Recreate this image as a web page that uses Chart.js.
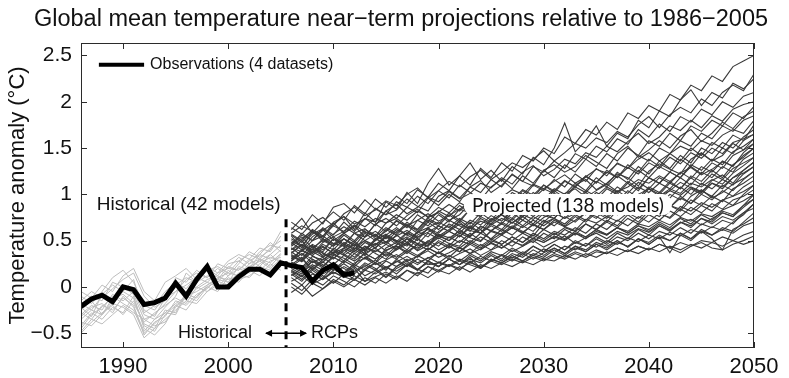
<!DOCTYPE html>
<html>
<head>
<meta charset="utf-8">
<title>Global mean temperature near-term projections</title>
<script src="https://cdn.jsdelivr.net/npm/chart.js@4.4.0/dist/chart.umd.min.js"></script>
<style>
    html, body { margin: 0; padding: 0; background: #fff; }
    #wrap { width: 789px; height: 378px; }
</style>
</head>
<body>
<div id="wrap"><canvas id="temp-chart" width="789" height="378"></canvas></div>
<script>
// years on the x axis, 1986..2050
const years = [1986, 1987, 1988, 1989, 1990, 1991, 1992, 1993, 1994, 1995,
    1996, 1997, 1998, 1999, 2000, 2001, 2002, 2003, 2004, 2005,
    2006, 2007, 2008, 2009, 2010, 2011, 2012, 2013, 2014, 2015,
    2016, 2017, 2018, 2019, 2020, 2021, 2022, 2023, 2024, 2025,
    2026, 2027, 2028, 2029, 2030, 2031, 2032, 2033, 2034, 2035,
    2036, 2037, 2038, 2039, 2040, 2041, 2042, 2043, 2044, 2045,
    2046, 2047, 2048, 2049, 2050];

const xTicks = [1990, 2000, 2010, 2020, 2030, 2040, 2050];
const yTicks = [-0.5, 0, 0.5, 1, 1.5, 2, 2.5];

// observations, 1986..2012
const obsValues = [-0.21, -0.13, -0.09, -0.16, 0.00, -0.03, -0.19, -0.17, -0.12, 0.04,
    -0.10, 0.08, 0.22, 0.00, 0.00, 0.11, 0.19, 0.19, 0.13, 0.26,
    0.23, 0.21, 0.06, 0.18, 0.24, 0.13, 0.15];

// historical model runs, 1986..2005
const histModels = [
    [-0.45, -0.30, -0.22, -0.10, -0.18, -0.25, -0.50, -0.40, -0.28, -0.18, -0.10, -0.05, 0.02, 0.08, 0.05, 0.15, 0.22, 0.18, 0.28, 0.32],
    [-0.20, -0.10, -0.15, 0.05, 0.00, -0.08, -0.35, -0.30, -0.18, -0.05, 0.02, 0.10, 0.05, 0.15, 0.20, 0.18, 0.28, 0.35, 0.30, 0.40],
    [-0.35, -0.25, -0.30, -0.15, -0.05, -0.12, -0.42, -0.48, -0.30, -0.20, -0.12, -0.02, 0.05, 0.00, 0.12, 0.20, 0.15, 0.25, 0.32, 0.28],
    [-0.10, -0.18, -0.05, 0.10, 0.18, 0.05, -0.20, -0.25, -0.10, 0.02, 0.10, 0.05, 0.18, 0.22, 0.15, 0.28, 0.35, 0.30, 0.42, 0.50],
    [-0.28, -0.35, -0.20, -0.25, -0.12, -0.20, -0.52, -0.38, -0.32, -0.15, -0.20, -0.08, -0.02, 0.10, 0.08, 0.12, 0.25, 0.30, 0.22, 0.35],
    [-0.50, -0.38, -0.28, -0.20, -0.30, -0.15, -0.40, -0.45, -0.25, -0.28, -0.05, 0.00, -0.05, 0.05, 0.18, 0.10, 0.20, 0.28, 0.35, 0.25],
    [-0.15, -0.05, -0.12, -0.02, 0.08, 0.15, -0.10, -0.22, -0.15, 0.10, 0.05, 0.18, 0.10, 0.25, 0.20, 0.32, 0.25, 0.38, 0.45, 0.42],
    [-0.30, -0.20, -0.25, -0.08, -0.15, -0.05, -0.30, -0.35, -0.22, -0.10, 0.15, 0.05, 0.12, 0.08, 0.22, 0.18, 0.30, 0.22, 0.35, 0.45],
    [-0.38, -0.42, -0.30, -0.18, -0.22, -0.30, -0.55, -0.45, -0.35, -0.25, -0.15, -0.18, -0.05, 0.02, -0.02, 0.08, 0.12, 0.20, 0.15, 0.22],
    [-0.05, -0.12, 0.02, -0.05, 0.12, 0.20, -0.05, -0.15, 0.05, 0.12, 0.20, 0.08, 0.22, 0.15, 0.28, 0.35, 0.30, 0.42, 0.38, 0.55],
    [-0.25, -0.15, -0.30, -0.12, -0.08, -0.18, -0.38, -0.28, -0.20, -0.12, -0.18, 0.00, 0.08, 0.12, 0.05, 0.22, 0.18, 0.30, 0.26, 0.36],
    [-0.42, -0.28, -0.35, -0.22, -0.28, -0.10, -0.45, -0.52, -0.40, -0.20, -0.25, -0.10, 0.00, -0.05, 0.10, 0.05, 0.18, 0.12, 0.25, 0.18],
    [-0.18, -0.25, -0.10, -0.15, 0.02, -0.02, -0.25, -0.32, -0.12, -0.05, 0.08, 0.15, 0.10, 0.20, 0.12, 0.25, 0.38, 0.32, 0.40, 0.60],
    [-0.32, -0.22, -0.18, -0.28, -0.10, -0.22, -0.48, -0.35, -0.28, -0.30, -0.08, -0.12, 0.02, 0.10, 0.15, 0.12, 0.22, 0.28, 0.20, 0.30],
    [-0.22, -0.32, -0.08, 0.02, -0.05, 0.08, -0.28, -0.20, -0.05, 0.05, -0.02, 0.12, 0.20, 0.12, 0.25, 0.28, 0.20, 0.35, 0.48, 0.38],
    [-0.48, -0.35, -0.40, -0.30, -0.20, -0.28, -0.35, -0.42, -0.38, -0.22, -0.10, -0.15, 0.00, 0.06, 0.02, 0.14, 0.10, 0.22, 0.18, 0.28]
];

// projected model runs (RCPs), 2006..2050
const projModels = [
    [0.62, 0.74, 0.58, 0.70, 0.81, 0.72, 0.88, 0.79, 0.95, 0.86, 0.98, 0.90, 1.05, 0.97, 1.12, 1.04, 1.20, 1.10, 1.28, 1.18, 1.34, 1.25, 1.42, 1.36, 1.50, 1.44, 1.62, 1.55, 1.70, 1.64, 1.78, 1.70, 1.88, 1.82, 1.96, 1.90, 2.08, 2.02, 2.18, 2.12, 2.28, 2.22, 2.38, 2.44, 2.50],
    [0.55, 0.42, 0.60, 0.52, 0.68, 0.76, 0.62, 0.80, 0.70, 0.92, 0.84, 1.02, 0.90, 1.12, 1.28, 1.10, 1.20, 1.34, 1.16, 1.26, 1.14, 1.30, 1.22, 1.40, 1.32, 1.50, 1.77, 1.46, 1.58, 1.74, 1.52, 1.66, 1.60, 1.80, 1.72, 1.90, 1.84, 2.02, 2.13, 1.96, 2.10, 2.04, 2.20, 2.14, 2.25],
    [0.45, 0.58, 0.50, 0.64, 0.56, 0.70, 0.60, 0.74, 0.66, 0.82, 0.74, 0.86, 0.80, 0.96, 0.88, 1.00, 0.92, 1.08, 1.02, 1.16, 1.08, 1.22, 1.14, 1.30, 1.24, 1.36, 1.28, 1.44, 1.38, 1.52, 1.46, 1.60, 1.54, 1.70, 1.62, 1.76, 1.68, 1.84, 1.78, 1.92, 1.86, 2.00, 1.94, 2.06, 2.10],
    [0.70, 0.62, 0.78, 0.68, 0.86, 0.90, 0.80, 0.94, 0.84, 0.78, 0.92, 0.86, 0.98, 0.90, 1.04, 0.96, 1.10, 1.02, 0.94, 1.08, 1.16, 1.06, 1.20, 1.12, 1.26, 1.18, 1.32, 1.24, 1.38, 1.30, 1.44, 1.36, 1.50, 1.42, 1.58, 1.52, 1.66, 1.58, 1.74, 1.68, 1.80, 1.74, 1.88, 1.82, 1.95],
    [0.35, 0.28, 0.44, 0.38, 0.52, 0.46, 0.58, 0.50, 0.42, 0.56, 0.64, 0.56, 0.72, 0.66, 0.78, 0.70, 0.84, 0.92, 0.80, 0.94, 0.88, 1.02, 0.96, 1.10, 1.04, 1.16, 1.08, 1.22, 1.14, 1.28, 1.20, 1.34, 1.28, 1.42, 1.36, 1.50, 1.44, 1.58, 1.52, 1.66, 1.60, 1.74, 1.68, 1.80, 1.85],
    [0.48, 0.40, 0.54, 0.62, 0.50, 0.58, 0.66, 0.54, 0.68, 0.60, 0.72, 0.64, 0.78, 0.70, 0.82, 0.76, 0.88, 0.80, 0.92, 0.86, 0.98, 0.90, 1.04, 0.96, 1.10, 1.02, 1.14, 1.08, 1.20, 1.12, 1.26, 1.18, 1.32, 1.24, 1.38, 1.30, 1.44, 1.36, 1.50, 1.42, 1.56, 1.50, 1.64, 1.58, 1.75],
    [0.40, 0.50, 0.36, 0.46, 0.40, 0.52, 0.44, 0.58, 0.50, 0.62, 0.56, 0.68, 0.60, 0.72, 0.66, 0.78, 0.70, 0.84, 0.76, 0.88, 0.82, 0.94, 0.86, 0.98, 0.92, 1.04, 0.96, 1.08, 1.02, 1.14, 1.08, 1.20, 1.12, 1.26, 1.18, 1.30, 1.24, 1.38, 1.30, 1.44, 1.36, 1.50, 1.44, 1.58, 1.65],
    [0.30, 0.40, 0.34, 0.26, 0.42, 0.36, 0.48, 0.40, 0.52, 0.46, 0.56, 0.48, 0.60, 0.54, 0.66, 0.60, 0.72, 0.64, 0.76, 0.70, 0.80, 0.74, 0.86, 0.78, 0.90, 0.84, 0.96, 0.90, 1.02, 0.94, 1.06, 1.00, 1.12, 1.04, 1.18, 1.12, 1.24, 1.18, 1.32, 1.26, 1.38, 1.32, 1.46, 1.52, 1.60],
    [0.50, 0.44, 0.36, 0.48, 0.54, 0.46, 0.40, 0.54, 0.60, 0.52, 0.62, 0.56, 0.50, 0.64, 0.70, 0.64, 0.74, 0.68, 0.80, 0.72, 0.84, 0.78, 0.88, 0.82, 0.94, 0.88, 0.98, 0.92, 1.04, 0.98, 1.08, 1.02, 1.14, 1.06, 1.18, 1.12, 1.24, 1.18, 1.30, 1.22, 1.34, 1.28, 1.42, 1.48, 1.55],
    [0.24, 0.32, 0.18, 0.30, 0.36, 0.28, 0.40, 0.34, 0.26, 0.42, 0.48, 0.40, 0.52, 0.46, 0.56, 0.50, 0.62, 0.54, 0.66, 0.60, 0.70, 0.64, 0.76, 0.68, 0.80, 0.74, 0.86, 0.78, 0.90, 0.84, 0.96, 0.88, 1.00, 0.94, 1.06, 1.00, 1.12, 1.06, 1.20, 1.14, 1.26, 1.18, 1.32, 1.40, 1.50],
    [0.38, 0.30, 0.44, 0.36, 0.30, 0.42, 0.50, 0.38, 0.46, 0.54, 0.46, 0.58, 0.52, 0.44, 0.60, 0.66, 0.58, 0.70, 0.62, 0.74, 0.68, 0.80, 0.72, 0.84, 0.78, 0.88, 0.82, 0.94, 0.86, 0.98, 0.92, 1.04, 0.96, 1.08, 1.02, 1.12, 1.06, 1.18, 1.10, 1.24, 1.18, 1.30, 1.24, 1.38, 1.45],
    [0.56, 0.48, 0.60, 0.52, 0.46, 0.58, 0.50, 0.62, 0.56, 0.48, 0.60, 0.66, 0.58, 0.70, 0.62, 0.72, 0.66, 0.60, 0.74, 0.68, 0.78, 0.72, 0.84, 0.76, 0.86, 0.80, 0.92, 0.84, 0.96, 0.88, 0.98, 0.92, 1.04, 0.96, 1.08, 1.02, 1.14, 1.06, 1.18, 1.10, 1.22, 1.16, 1.28, 1.34, 1.40],
    [0.20, 0.14, 0.28, 0.22, 0.32, 0.26, 0.36, 0.30, 0.40, 0.34, 0.44, 0.36, 0.46, 0.40, 0.50, 0.44, 0.56, 0.48, 0.58, 0.52, 0.62, 0.56, 0.66, 0.60, 0.72, 0.66, 0.76, 0.70, 0.80, 0.74, 0.86, 0.78, 0.90, 0.84, 0.94, 0.88, 1.00, 0.94, 1.06, 1.00, 1.12, 1.06, 1.18, 1.26, 1.35],
    [0.42, 0.34, 0.46, 0.40, 0.52, 0.44, 0.38, 0.48, 0.42, 0.54, 0.50, 0.44, 0.56, 0.62, 0.54, 0.60, 0.54, 0.66, 0.58, 0.68, 0.62, 0.74, 0.66, 0.76, 0.70, 0.80, 0.74, 0.84, 0.78, 0.90, 0.84, 0.94, 0.88, 0.98, 0.92, 1.02, 0.96, 1.08, 1.00, 1.12, 1.06, 1.16, 1.10, 1.22, 1.30],
    [0.28, 0.36, 0.30, 0.22, 0.34, 0.40, 0.32, 0.44, 0.36, 0.30, 0.42, 0.48, 0.40, 0.50, 0.44, 0.54, 0.48, 0.58, 0.50, 0.60, 0.56, 0.64, 0.58, 0.68, 0.62, 0.72, 0.66, 0.76, 0.70, 0.80, 0.74, 0.84, 0.78, 0.88, 0.82, 0.92, 0.86, 0.98, 0.90, 1.04, 0.98, 1.10, 1.04, 1.16, 1.25],
    [0.14, 0.06, 0.18, 0.10, 0.22, 0.16, 0.08, 0.20, 0.26, 0.18, 0.30, 0.22, 0.34, 0.28, 0.38, 0.32, 0.42, 0.36, 0.46, 0.40, 0.50, 0.44, 0.54, 0.48, 0.58, 0.52, 0.62, 0.56, 0.68, 0.62, 0.72, 0.66, 0.78, 0.70, 0.82, 0.76, 0.88, 0.82, 0.94, 0.88, 0.98, 0.92, 1.06, 1.12, 1.20],
    [0.46, 0.54, 0.42, 0.50, 0.44, 0.52, 0.46, 0.40, 0.50, 0.56, 0.48, 0.54, 0.46, 0.58, 0.52, 0.60, 0.54, 0.64, 0.58, 0.66, 0.60, 0.70, 0.64, 0.72, 0.66, 0.74, 0.68, 0.78, 0.72, 0.82, 0.76, 0.86, 0.80, 0.88, 0.84, 0.92, 0.86, 0.96, 0.90, 1.00, 0.94, 1.04, 0.98, 1.08, 1.15],
    [0.26, 0.20, 0.30, 0.24, 0.18, 0.28, 0.22, 0.32, 0.26, 0.36, 0.30, 0.38, 0.32, 0.42, 0.36, 0.44, 0.38, 0.48, 0.42, 0.50, 0.46, 0.54, 0.48, 0.58, 0.52, 0.60, 0.56, 0.64, 0.58, 0.68, 0.62, 0.72, 0.66, 0.76, 0.70, 0.80, 0.74, 0.84, 0.78, 0.88, 0.82, 0.94, 0.88, 1.00, 1.10],
    [0.34, 0.28, 0.38, 0.32, 0.40, 0.34, 0.42, 0.36, 0.30, 0.40, 0.44, 0.38, 0.46, 0.40, 0.48, 0.42, 0.50, 0.46, 0.54, 0.48, 0.56, 0.50, 0.58, 0.52, 0.62, 0.56, 0.64, 0.60, 0.68, 0.62, 0.70, 0.64, 0.74, 0.68, 0.78, 0.72, 0.82, 0.76, 0.86, 0.80, 0.90, 0.84, 0.94, 0.98, 1.05],
    [0.10, 0.02, 0.14, 0.08, 0.16, 0.10, 0.20, 0.06, 0.16, 0.22, 0.14, 0.24, 0.18, 0.28, 0.22, 0.30, 0.24, 0.34, 0.28, 0.36, 0.30, 0.40, 0.34, 0.44, 0.38, 0.46, 0.40, 0.50, 0.44, 0.54, 0.48, 0.58, 0.52, 0.62, 0.56, 0.66, 0.60, 0.70, 0.64, 0.74, 0.70, 0.80, 0.76, 0.88, 1.00],
    [0.30, 0.36, 0.26, 0.32, 0.24, 0.34, 0.28, 0.36, 0.30, 0.38, 0.32, 0.40, 0.34, 0.42, 0.36, 0.44, 0.38, 0.46, 0.40, 0.48, 0.42, 0.50, 0.44, 0.52, 0.48, 0.54, 0.50, 0.58, 0.52, 0.60, 0.56, 0.64, 0.58, 0.66, 0.62, 0.70, 0.64, 0.74, 0.68, 0.78, 0.72, 0.82, 0.78, 0.88, 0.95],
    [0.22, 0.16, 0.24, 0.18, 0.26, 0.20, 0.14, 0.24, 0.18, 0.28, 0.22, 0.30, 0.24, 0.32, 0.26, 0.34, 0.28, 0.36, 0.30, 0.38, 0.34, 0.42, 0.36, 0.44, 0.38, 0.46, 0.40, 0.48, 0.44, 0.52, 0.46, 0.54, 0.50, 0.58, 0.52, 0.60, 0.56, 0.64, 0.58, 0.68, 0.64, 0.72, 0.68, 0.80, 0.90],
    [0.40, 0.46, 0.38, 0.44, 0.36, 0.42, 0.36, 0.44, 0.38, 0.46, 0.40, 0.46, 0.42, 0.48, 0.40, 0.46, 0.42, 0.50, 0.44, 0.52, 0.46, 0.54, 0.48, 0.56, 0.50, 0.58, 0.52, 0.60, 0.54, 0.62, 0.56, 0.64, 0.58, 0.66, 0.60, 0.68, 0.62, 0.70, 0.66, 0.74, 0.68, 0.76, 0.72, 0.80, 0.85],
    [0.04, -0.04, 0.08, 0.02, 0.12, 0.06, 0.00, 0.10, 0.04, 0.14, 0.08, 0.18, 0.12, 0.22, 0.16, 0.24, 0.18, 0.28, 0.20, 0.30, 0.26, 0.34, 0.28, 0.36, 0.32, 0.40, 0.34, 0.42, 0.38, 0.46, 0.40, 0.48, 0.44, 0.52, 0.46, 0.54, 0.50, 0.58, 0.52, 0.62, 0.56, 0.64, 0.60, 0.70, 0.80],
    [0.26, 0.18, 0.28, 0.20, 0.14, 0.22, 0.16, 0.26, 0.20, 0.11, 0.22, 0.28, 0.19, 0.26, 0.22, 0.30, 0.24, 0.32, 0.20, 0.28, 0.34, 0.28, 0.36, 0.30, 0.37, 0.42, 0.36, 0.44, 0.38, 0.46, 0.42, 0.50, 0.43, 0.52, 0.46, 0.54, 0.37, 0.56, 0.50, 0.60, 0.52, 0.40, 0.62, 0.68, 0.75],
    [0.16, 0.08, 0.20, 0.12, 0.04, 0.14, 0.22, 0.12, 0.18, 0.10, 0.20, 0.26, 0.18, 0.28, 0.22, 0.30, 0.24, 0.30, 0.26, 0.34, 0.28, 0.36, 0.32, 0.40, 0.34, 0.42, 0.36, 0.44, 0.40, 0.48, 0.44, 0.50, 0.43, 0.52, 0.48, 0.56, 0.50, 0.58, 0.52, 0.60, 0.56, 0.62, 0.58, 0.66, 0.70],
    [0.00, -0.08, 0.04, -0.02, 0.08, 0.02, 0.12, 0.06, 0.11, 0.16, 0.10, 0.18, 0.14, 0.22, 0.18, 0.24, 0.20, 0.26, 0.22, 0.28, 0.24, 0.30, 0.26, 0.32, 0.28, 0.34, 0.30, 0.36, 0.32, 0.38, 0.36, 0.42, 0.38, 0.44, 0.40, 0.46, 0.42, 0.48, 0.44, 0.50, 0.48, 0.54, 0.50, 0.56, 0.60],
    [0.18, 0.12, 0.22, 0.14, 0.20, 0.16, 0.24, 0.18, 0.26, 0.20, 0.28, 0.22, 0.30, 0.24, 0.26, 0.22, 0.28, 0.24, 0.20, 0.30, 0.26, 0.32, 0.28, 0.34, 0.30, 0.36, 0.32, 0.38, 0.34, 0.40, 0.36, 0.42, 0.38, 0.44, 0.40, 0.46, 0.42, 0.37, 0.44, 0.48, 0.42, 0.40, 0.46, 0.50, 0.55],
    [-0.06, 0.02, -0.10, -0.02, 0.06, 0.00, 0.08, 0.02, 0.10, 0.04, 0.12, 0.06, 0.16, 0.10, 0.18, 0.14, 0.22, 0.16, 0.24, 0.20, 0.26, 0.22, 0.28, 0.24, 0.30, 0.28, 0.34, 0.30, 0.36, 0.32, 0.38, 0.34, 0.40, 0.36, 0.42, 0.38, 0.44, 0.40, 0.46, 0.42, 0.48, 0.44, 0.50, 0.46, 0.50],
    [0.36, 0.46, 0.40, 0.52, 0.44, 0.56, 0.48, 0.60, 0.54, 0.64, 0.58, 0.70, 0.62, 0.74, 0.68, 0.80, 0.72, 0.84, 0.78, 0.90, 0.84, 0.96, 0.90, 1.02, 0.94, 1.06, 1.00, 1.12, 1.04, 1.18, 1.10, 1.24, 1.16, 1.30, 1.22, 1.36, 1.28, 1.42, 1.34, 1.50, 1.44, 1.56, 1.50, 1.62, 1.70],
    [0.42, 0.38, 0.50, 0.55, 0.47, 0.44, 0.58, 0.63, 0.52, 0.60, 0.71, 0.66, 0.62, 0.75, 0.80, 0.72, 0.78, 0.90, 0.83, 0.79, 0.92, 0.99, 0.88, 0.95, 1.06, 1.01, 0.97, 1.10, 1.16, 1.05, 1.12, 1.22, 1.18, 1.09, 1.25, 1.33, 1.27, 1.22, 1.38, 1.45, 1.36, 1.42, 1.55, 1.48, 1.60],
    [0.28, 0.40, 0.45, 0.33, 0.36, 0.48, 0.42, 0.39, 0.51, 0.57, 0.50, 0.46, 0.59, 0.64, 0.55, 0.62, 0.70, 0.61, 0.58, 0.72, 0.78, 0.69, 0.76, 0.84, 0.77, 0.74, 0.86, 0.92, 0.83, 0.89, 0.97, 0.90, 0.87, 1.00, 1.06, 0.98, 1.04, 1.13, 1.07, 1.02, 1.15, 1.21, 1.12, 1.26, 1.35],
    [0.58, 0.66, 0.60, 0.54, 0.70, 0.76, 0.68, 0.73, 0.85, 0.78, 0.83, 0.95, 0.87, 0.82, 0.98, 1.04, 0.96, 1.08, 1.15, 1.02, 1.10, 1.21, 1.14, 1.09, 1.26, 1.32, 1.24, 1.30, 1.42, 1.35, 1.28, 1.44, 1.52, 1.40, 1.48, 1.58, 1.50, 1.63, 1.70, 1.57, 1.66, 1.78, 1.71, 1.84, 1.90],
    [0.22, 0.30, 0.19, 0.27, 0.35, 0.31, 0.24, 0.37, 0.42, 0.33, 0.40, 0.48, 0.39, 0.45, 0.53, 0.47, 0.44, 0.56, 0.62, 0.51, 0.58, 0.66, 0.60, 0.55, 0.69, 0.74, 0.65, 0.72, 0.80, 0.76, 0.70, 0.83, 0.89, 0.79, 0.86, 0.94, 0.88, 0.84, 0.98, 1.05, 0.96, 1.02, 1.11, 1.17, 1.25],
    [0.47, 0.56, 0.50, 0.61, 0.69, 0.58, 0.65, 0.74, 0.70, 0.82, 0.89, 0.79, 0.86, 0.97, 0.92, 1.03, 0.95, 1.01, 1.12, 1.07, 1.18, 1.11, 1.24, 1.31, 1.20, 1.27, 1.38, 1.33, 1.45, 1.40, 1.52, 1.46, 1.57, 1.66, 1.55, 1.62, 1.74, 1.69, 1.80, 1.72, 1.85, 1.79, 1.92, 1.97, 2.00],
    [0.33, 0.27, 0.41, 0.37, 0.31, 0.39, 0.46, 0.35, 0.43, 0.49, 0.41, 0.52, 0.47, 0.44, 0.55, 0.50, 0.58, 0.53, 0.49, 0.61, 0.57, 0.64, 0.59, 0.67, 0.62, 0.70, 0.65, 0.61, 0.73, 0.69, 0.76, 0.71, 0.80, 0.74, 0.83, 0.79, 0.75, 0.87, 0.82, 0.91, 0.86, 0.94, 0.98, 1.03, 1.10],
    [0.52, 0.45, 0.57, 0.63, 0.54, 0.60, 0.67, 0.59, 0.55, 0.69, 0.74, 0.66, 0.72, 0.79, 0.71, 0.77, 0.84, 0.80, 0.76, 0.88, 0.93, 0.85, 0.91, 0.98, 0.94, 0.89, 1.01, 1.06, 0.97, 1.04, 1.11, 1.03, 1.08, 1.16, 1.12, 1.20, 1.14, 1.23, 1.29, 1.21, 1.27, 1.35, 1.31, 1.42, 1.50],
    [0.12, 0.20, 0.15, 0.08, 0.18, 0.25, 0.17, 0.22, 0.29, 0.21, 0.27, 0.33, 0.26, 0.31, 0.37, 0.30, 0.36, 0.41, 0.34, 0.40, 0.45, 0.38, 0.44, 0.50, 0.43, 0.49, 0.55, 0.47, 0.53, 0.58, 0.52, 0.60, 0.56, 0.63, 0.59, 0.66, 0.61, 0.69, 0.73, 0.67, 0.74, 0.80, 0.76, 0.86, 0.95],
    [0.64, 0.57, 0.69, 0.75, 0.66, 0.79, 0.86, 0.77, 0.83, 0.93, 0.88, 1.00, 1.07, 0.96, 1.04, 1.14, 1.08, 1.19, 1.26, 1.16, 1.24, 1.34, 1.29, 1.38, 1.47, 1.36, 1.45, 1.55, 1.50, 1.61, 1.56, 1.68, 1.62, 1.75, 1.84, 1.72, 1.86, 1.94, 1.88, 2.03, 1.96, 2.10, 2.18, 2.12, 2.30],
    [0.27, 0.21, 0.33, 0.29, 0.38, 0.35, 0.30, 0.42, 0.47, 0.39, 0.45, 0.52, 0.44, 0.49, 0.57, 0.53, 0.60, 0.55, 0.65, 0.61, 0.68, 0.63, 0.72, 0.66, 0.75, 0.81, 0.74, 0.79, 0.87, 0.83, 0.90, 0.84, 0.94, 1.00, 0.92, 0.98, 1.06, 1.01, 1.12, 1.08, 1.16, 1.11, 1.23, 1.31, 1.40],
    [0.44, 0.52, 0.61, 0.49, 0.57, 0.65, 0.58, 0.54, 0.68, 0.74, 0.66, 0.77, 0.84, 0.75, 0.81, 0.89, 0.82, 0.93, 0.99, 0.90, 0.97, 1.05, 1.00, 1.11, 1.06, 1.14, 1.21, 1.12, 1.19, 1.27, 1.23, 1.33, 1.28, 1.38, 1.45, 1.36, 1.44, 1.52, 1.47, 1.58, 1.53, 1.64, 1.70, 1.66, 1.80],
    [0.17, 0.11, 0.22, 0.27, 0.19, 0.14, 0.26, 0.31, 0.24, 0.29, 0.35, 0.28, 0.33, 0.39, 0.32, 0.37, 0.43, 0.36, 0.41, 0.47, 0.42, 0.49, 0.45, 0.53, 0.48, 0.55, 0.51, 0.58, 0.54, 0.62, 0.57, 0.64, 0.60, 0.68, 0.65, 0.72, 0.67, 0.75, 0.71, 0.79, 0.76, 0.83, 0.88, 0.93, 1.00],
    [0.37, 0.45, 0.40, 0.34, 0.46, 0.52, 0.44, 0.50, 0.57, 0.48, 0.55, 0.61, 0.54, 0.59, 0.66, 0.60, 0.68, 0.63, 0.71, 0.67, 0.74, 0.69, 0.78, 0.73, 0.81, 0.77, 0.85, 0.80, 0.88, 0.84, 0.92, 0.87, 0.96, 0.91, 1.00, 0.95, 1.04, 0.99, 1.08, 1.03, 1.12, 1.08, 1.18, 1.23, 1.30],
    [0.57, 0.50, 0.62, 0.55, 0.66, 0.60, 0.71, 0.65, 0.74, 0.69, 0.78, 0.72, 0.82, 0.76, 0.86, 0.80, 0.91, 0.85, 0.95, 0.89, 1.00, 0.94, 1.05, 0.99, 1.10, 1.04, 1.15, 1.08, 1.19, 1.13, 1.24, 1.18, 1.29, 1.22, 1.34, 1.28, 1.40, 1.33, 1.45, 1.39, 1.50, 1.44, 1.56, 1.60, 1.65],
    [0.31, 0.39, 0.34, 0.43, 0.37, 0.46, 0.41, 0.50, 0.45, 0.55, 0.49, 0.59, 0.53, 0.63, 0.58, 0.68, 0.62, 0.72, 0.67, 0.77, 0.71, 0.82, 0.76, 0.87, 0.81, 0.92, 0.86, 0.97, 0.91, 1.02, 0.96, 1.08, 1.01, 1.13, 1.06, 1.18, 1.12, 1.24, 1.17, 1.30, 1.24, 1.36, 1.30, 1.45, 1.55],
    [0.06, 0.12, 0.03, 0.09, 0.16, 0.11, 0.07, 0.18, 0.14, 0.21, 0.17, 0.24, 0.19, 0.15, 0.27, 0.23, 0.30, 0.26, 0.33, 0.28, 0.35, 0.31, 0.38, 0.34, 0.41, 0.37, 0.44, 0.40, 0.47, 0.43, 0.50, 0.46, 0.53, 0.49, 0.56, 0.52, 0.59, 0.55, 0.62, 0.58, 0.65, 0.61, 0.70, 0.78, 0.90]
];

// annotation anchors, in data units
const splitYear = 2005.5;
const splitTop = 0.73;
const legendAnchor = { x1: 1987.7, x2: 1992.0, y: 2.4 };
const histLabelAnchor = { x: 1987.5, y: 0.89 };
const projLabelAnchor = { x: 2032.3, y: 0.89 };
const bottomLabelAnchor = { y: -0.5 };

const uiFont = '"Liberation Sans", Arial, Helvetica, sans-serif';

document.addEventListener('DOMContentLoaded', function() {
    initializeChart();
});

function toPoints(xs, ys) {
    return ys.map((v, i) => ({ x: xs[i], y: v }));
}

function formatTick(v) {
    if (v < 0) return '\u2212' + Math.abs(v);
    return String(v);
}

function drawArrowHead(ctx, x, y, dir) {
    ctx.beginPath();
    ctx.moveTo(x, y);
    ctx.lineTo(x - dir * 7, y - 3.5);
    ctx.lineTo(x - dir * 7, y + 3.5);
    ctx.closePath();
    ctx.fill();
}

const overlayPlugin = {
    id: 'overlay',
    afterDraw(chart) {
        const ctx = chart.ctx;
        const area = chart.chartArea;
        const xs = chart.scales.x;
        const ys = chart.scales.y;

        ctx.save();

        // frame and inward ticks
        ctx.strokeStyle = '#2b2b2b';
        ctx.lineWidth = 1;
        ctx.strokeRect(area.left + 0.5, area.top + 0.5, area.right - area.left - 1, area.bottom - area.top - 1);
        ctx.beginPath();
        xTicks.forEach(v => {
            const px = Math.round(xs.getPixelForValue(v)) + 0.5;
            ctx.moveTo(px, area.bottom);
            ctx.lineTo(px, area.bottom - 6);
            ctx.moveTo(px, area.top);
            ctx.lineTo(px, area.top + 6);
        });
        yTicks.forEach(v => {
            const py = Math.round(ys.getPixelForValue(v)) + 0.5;
            ctx.moveTo(area.left, py);
            ctx.lineTo(area.left + 6, py);
            ctx.moveTo(area.right, py);
            ctx.lineTo(area.right - 6, py);
        });
        ctx.stroke();

        // title
        ctx.fillStyle = '#111';
        ctx.font = '23.5px ' + uiFont;
        ctx.textAlign = 'center';
        ctx.textBaseline = 'alphabetic';
        ctx.fillText('Global mean temperature near\u2212term projections relative to 1986\u22122005', 401, 26);

        // legend
        const ly = ys.getPixelForValue(legendAnchor.y);
        ctx.strokeStyle = '#000';
        ctx.lineWidth = 4;
        ctx.beginPath();
        ctx.moveTo(xs.getPixelForValue(legendAnchor.x1), ly);
        ctx.lineTo(xs.getPixelForValue(legendAnchor.x2), ly);
        ctx.stroke();
        ctx.font = '16px ' + uiFont;
        ctx.textAlign = 'left';
        ctx.textBaseline = 'middle';
        ctx.fillText('Observations (4 datasets)', xs.getPixelForValue(legendAnchor.x2) + 6, ly);

        // Historical (42 models)
        ctx.font = '19px ' + uiFont;
        ctx.fillText('Historical (42 models)', xs.getPixelForValue(histLabelAnchor.x), ys.getPixelForValue(histLabelAnchor.y));

        // Projected (138 models) in a white rounded box
        const px = xs.getPixelForValue(projLabelAnchor.x);
        const py = ys.getPixelForValue(projLabelAnchor.y);
        ctx.font = '19px Lato, "Open Sans", sans-serif';
        const label = 'Projected (138 models)';
        const w = ctx.measureText(label).width + 16;
        ctx.fillStyle = '#fff';
        ctx.beginPath();
        if (ctx.roundRect) {
            ctx.roundRect(px - w / 2, py - 10.5, w, 21, 9);
        } else {
            ctx.rect(px - w / 2, py - 10.5, w, 21);
        }
        ctx.fill();
        ctx.fillStyle = '#111';
        ctx.textAlign = 'center';
        ctx.fillText(label, px, py + 1);

        // Historical <-> RCPs
        const sx = xs.getPixelForValue(splitYear);
        const by = ys.getPixelForValue(bottomLabelAnchor.y);
        ctx.font = '18px ' + uiFont;
        ctx.textAlign = 'right';
        ctx.fillText('Historical', sx - 34, by);
        ctx.textAlign = 'left';
        ctx.fillText('RCPs', sx + 25, by);
        ctx.strokeStyle = '#000';
        ctx.fillStyle = '#000';
        ctx.lineWidth = 1.5;
        ctx.beginPath();
        ctx.moveTo(sx - 20, by);
        ctx.lineTo(sx + 20, by);
        ctx.stroke();
        drawArrowHead(ctx, sx - 21, by, -1);
        drawArrowHead(ctx, sx + 21, by, 1);

        ctx.restore();
    }
};

function initializeChart() {
    const histYears = years.slice(0, 20);
    const obsYears = years.slice(0, obsValues.length);
    const projYears = years.slice(20);

    const datasets = [];

    datasets.push({
        label: 'Observations (4 datasets)',
        data: toPoints(obsYears, obsValues),
        borderColor: '#000',
        borderWidth: 5,
        order: 0
    });

    datasets.push({
        label: 'split',
        data: [{ x: splitYear, y: splitTop }, { x: splitYear, y: -0.66 }],
        borderColor: '#000',
        borderWidth: 3,
        borderDash: [8, 6],
        order: 1
    });

    projModels.forEach((vals, i) => {
        datasets.push({
            label: 'RCP run ' + (i + 1),
            data: toPoints(projYears, vals),
            borderColor: '#3a3a3a',
            borderWidth: 1.1,
            order: 2
        });
    });

    histModels.forEach((vals, i) => {
        datasets.push({
            label: 'Historical run ' + (i + 1),
            data: toPoints(histYears, vals),
            borderColor: '#bdbdbd',
            borderWidth: 1,
            order: 3
        });
    });

    const ctx = document.getElementById('temp-chart').getContext('2d');

    new Chart(ctx, {
        type: 'line',
        data: { datasets: datasets },
        options: {
            responsive: false,
            animation: false,
            layout: { padding: { top: 43, right: 35, left: 0, bottom: 0 } },
            elements: {
                point: { radius: 0, hoverRadius: 0 },
                line: { tension: 0, fill: false }
            },
            plugins: {
                legend: { display: false },
                title: { display: false },
                tooltip: { enabled: false }
            },
            scales: {
                x: {
                    type: 'linear',
                    min: 1986,
                    max: 2050,
                    afterBuildTicks: function(scale) {
                        scale.ticks = xTicks.map(v => ({ value: v }));
                    },
                    afterFit: function(scale) {
                        scale.height = 30;
                    },
                    grid: { display: false, drawTicks: false },
                    border: { display: false },
                    ticks: {
                        color: '#111',
                        padding: 6,
                        maxRotation: 0,
                        font: { family: uiFont, size: 22 },
                        callback: v => String(v)
                    }
                },
                y: {
                    type: 'linear',
                    min: -0.66,
                    max: 2.635,
                    afterBuildTicks: function(scale) {
                        scale.ticks = yTicks.map(v => ({ value: v }));
                    },
                    afterFit: function(scale) {
                        scale.width = 81;
                    },
                    grid: { display: false, drawTicks: false },
                    border: { display: false },
                    title: {
                        display: true,
                        text: 'Temperature anomaly (\u00B0C)',
                        color: '#111',
                        font: { family: uiFont, size: 22 },
                        padding: { top: 5, bottom: 0 }
                    },
                    ticks: {
                        color: '#111',
                        padding: 9,
                        font: { family: uiFont, size: 21 },
                        callback: v => formatTick(v)
                    }
                }
            }
        },
        plugins: [overlayPlugin]
    });
}
</script>
</body>
</html>
